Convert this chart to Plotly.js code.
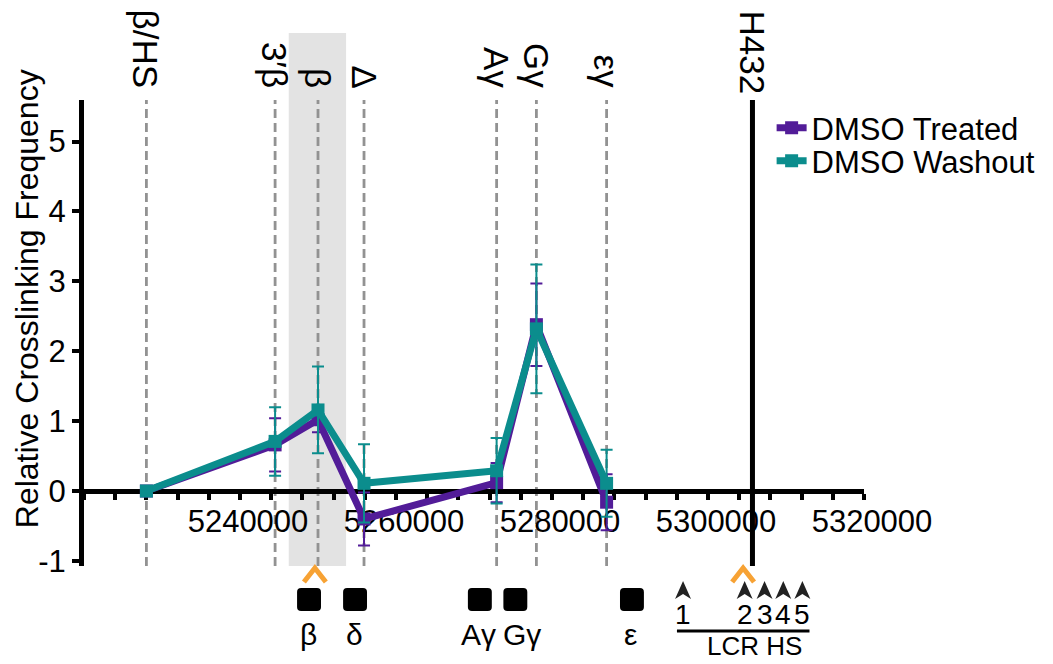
<!DOCTYPE html>
<html><head><meta charset="utf-8">
<script src="https://cdn.plot.ly/plotly-3.0.1.min.js"></script>
<style>html,body{margin:0;padding:0;background:#fff}#chart{width:1053px;height:664px}</style>
</head><body><div id="chart"></div>
<script>
// ---- data ----
const siteNames = ['β/HS', '3′β', 'β', 'Δ', 'Aγ', 'Gγ', 'εγ'];
const sitePositions = [5228000, 5244500, 5250000, 5255900, 5272900, 5278000, 5287000];
const treatedValues = [0, 0.66, 1.02, -0.40, 0.12, 2.38, -0.16];
const treatedErrors = [0, 0.38, 0.18, 0.38, 0.28, 0.59, 0.40];
const washoutValues = [0, 0.71, 1.16, 0.11, 0.29, 2.32, 0.11];
const washoutErrors = [0, 0.49, 0.62, 0.56, 0.47, 0.92, 0.48];
const anchorName = 'H432';
const anchorPosition = 5305700;
const shadeRange = [5246250, 5253600];
const geneNames = ['β', 'δ', 'Aγ', 'Gγ', 'ε'];
const genePositions = [5248850, 5254750, 5270750, 5275300, 5290250];
const geneLabelPositions = [5248750, 5254700, 5270550, 5276100, 5290000];
const hsNames = ['1', '2', '3', '4', '5'];
const hsPositions = [5296800, 5304700, 5307250, 5309650, 5312100];
const caretPositions = [5249600, 5304500];
const xTickLabels = ['5240000', '5260000', '5280000', '5300000', '5320000'];
const yTickLabels = ['-1', '0', '1', '2', '3', '4', '5'];

// ---- geometry ----
const W = 1053, H = 664;
const L = 84, R = W - 866.7, T = 100, B = H - 566;
const PW = W - L - R, PH = H - T - B;
const xRange = [5220000, 5320000];
const yRange = [-1.073, 5.595];
const purple = '#521c98', teal = '#0b8d8d';
const FONT = 'Liberation Sans, Arial, sans-serif';

const pxX = px => (px - L) / PW;            // paper x from pixel
const pxY = py => (H - B - py) / PH;        // paper y from pixel
const dataPerPx = (xRange[1] - xRange[0]) / PW;

// ticks every 4000 with labels on the 20000s
const tickVals = [], tickText = [];
for (let v = xRange[0]; v <= xRange[1]; v += 4000) {
  tickVals.push(v);
  const idx = xTickLabels.indexOf(String(v));
  tickText.push(idx >= 0 ? xTickLabels[idx] : '');
}

const traces = [
  {
    x: sitePositions, y: treatedValues, name: 'DMSO Treated', legend: 'legend',
    mode: 'lines+markers', type: 'scatter',
    line: {color: purple, width: 7},
    marker: {symbol: 'square', size: 13, color: purple},
    error_y: {type: 'data', array: treatedErrors, color: purple, thickness: 2, width: 6},
    cliponaxis: false
  },
  {
    x: sitePositions, y: washoutValues, name: 'DMSO Washout', legend: 'legend2',
    mode: 'lines+markers', type: 'scatter',
    line: {color: teal, width: 7},
    marker: {symbol: 'square', size: 13, color: teal},
    error_y: {type: 'data', array: washoutErrors, color: teal, thickness: 2, width: 6},
    cliponaxis: false
  }
];

const shapes = [];
shapes.push({type: 'rect', xref: 'x', yref: 'paper', x0: shadeRange[0], x1: shadeRange[1],
  y0: 0, y1: pxY(33), fillcolor: '#e3e3e3', line: {width: 0}, layer: 'below'});
sitePositions.forEach(p => shapes.push({type: 'line', xref: 'x', yref: 'paper', x0: p, x1: p,
  y0: 0, y1: 1, line: {color: '#929292', width: 2.8, dash: '9px,5px'}, layer: 'below'}));
shapes.push({type: 'line', xref: 'x', yref: 'paper', x0: anchorPosition, x1: anchorPosition,
  y0: 0, y1: 1, line: {color: '#000', width: 5}, layer: 'above'});
// viewpoint carets
const half = 11 * dataPerPx;
caretPositions.forEach(c => shapes.push({type: 'path', xref: 'x', yref: 'paper',
  path: `M${c - half},${pxY(582)} L${c},${pxY(568)} L${c + half},${pxY(582)}`,
  line: {color: '#f7a234', width: 5}, layer: 'above'}));
// gene boxes (rounded squares)
genePositions.forEach(c => {
  const hw = 12 * dataPerPx, r = 4 * dataPerPx;
  const yt = pxY(588), yb = pxY(611), rt = pxY(592), rb = pxY(607);
  const x0 = c - hw, x1 = c + hw;
  shapes.push({type: 'path', xref: 'x', yref: 'paper', fillcolor: '#000', line: {width: 0},
    path: `M${x0 + r},${yt} L${x1 - r},${yt} Q${x1},${yt} ${x1},${rt} L${x1},${rb} Q${x1},${yb} ${x1 - r},${yb} ` +
          `L${x0 + r},${yb} Q${x0},${yb} ${x0},${rb} L${x0},${rt} Q${x0},${yt} ${x0 + r},${yt} Z`});
});
// HS arrowheads
hsPositions.forEach(c => {
  const hw = 8 * dataPerPx;
  shapes.push({type: 'path', xref: 'x', yref: 'paper', fillcolor: '#222', line: {width: 0},
    path: `M${c},${pxY(581)} L${c + hw},${pxY(599)} L${c},${pxY(594)} L${c - hw},${pxY(599)} Z`});
});
shapes.push({type: 'line', xref: 'paper', yref: 'paper', x0: pxX(679), x1: pxX(812),
  y0: pxY(631), y1: pxY(631), line: {color: '#000', width: 3}});

const annotations = [];
siteNames.forEach((n, i) => annotations.push({text: n, x: sitePositions[i], xref: 'x',
  y: pxY(90), yref: 'paper', yanchor: 'bottom', xanchor: 'center', textangle: 90,
  showarrow: false, font: {family: FONT, size: 35, color: '#000'}}));
annotations.push({text: anchorName, x: anchorPosition, xref: 'x', y: pxY(97), yref: 'paper',
  yanchor: 'bottom', xanchor: 'center', textangle: 90, showarrow: false,
  font: {family: FONT, size: 35, color: '#000'}});
geneNames.forEach((n, i) => annotations.push({text: n, x: geneLabelPositions[i], xref: 'x',
  y: pxY(634), yref: 'paper', yanchor: 'middle', xanchor: 'center', showarrow: false,
  font: {family: FONT, size: 30, color: '#000'}}));
hsNames.forEach((n, i) => annotations.push({text: n, x: hsPositions[i], xref: 'x',
  y: pxY(614), yref: 'paper', yanchor: 'middle', xanchor: 'center', showarrow: false,
  font: {family: FONT, size: 28, color: '#000'}}));
annotations.push({text: 'LCR HS', x: pxX(757), xref: 'paper', y: pxY(646), yref: 'paper',
  yanchor: 'middle', xanchor: 'center', showarrow: false, font: {family: FONT, size: 26, color: '#000'}});
annotations.push({text: 'Relative Crosslinking Frequency', x: pxX(27), xref: 'paper',
  y: pxY(299), yref: 'paper', xanchor: 'center', yanchor: 'middle', textangle: -90,
  showarrow: false, font: {family: FONT, size: 32, color: '#000'}});

const layout = {
  width: W, height: H,
  margin: {l: L, r: R, t: T, b: B, pad: 0},
  paper_bgcolor: '#fff', plot_bgcolor: 'rgba(0,0,0,0)',
  font: {family: FONT, color: '#000'},
  showlegend: true,
  xaxis: {
    range: xRange, anchor: 'free', position: (0 - yRange[0]) / (yRange[1] - yRange[0]),
    showline: true, linecolor: '#000', linewidth: 5, layer: 'below traces',
    tickmode: 'array', tickvals: tickVals, ticktext: tickText,
    ticks: 'outside', ticklen: 6, tickwidth: 4, tickcolor: '#000',
    ticklabelshift: 8, ticklabelstandoff: -5,
    showgrid: false, zeroline: false, tickfont: {family: FONT, size: 31, color: '#000'}
  },
  yaxis: {
    range: yRange, showline: true, linecolor: '#000', linewidth: 5,
    tickmode: 'array', tickvals: yTickLabels.map(Number), ticktext: yTickLabels,
    ticks: 'outside', ticklen: 7, tickwidth: 4, tickcolor: '#000',
    showgrid: false, zeroline: false, tickfont: {family: FONT, size: 31, color: '#000'}
  },
  legend: {x: pxX(774), y: pxY(128), xanchor: 'left', yanchor: 'middle',
    bgcolor: 'rgba(0,0,0,0)', font: {family: FONT, size: 31, color: '#000'}},
  legend2: {x: pxX(774), y: pxY(161), xanchor: 'left', yanchor: 'middle',
    bgcolor: 'rgba(0,0,0,0)', font: {family: FONT, size: 31, color: '#000'}},
  shapes: shapes,
  annotations: annotations
};

Plotly.newPlot('chart', traces, layout, {displayModeBar: false, staticPlot: true});
</script>
</body></html>
